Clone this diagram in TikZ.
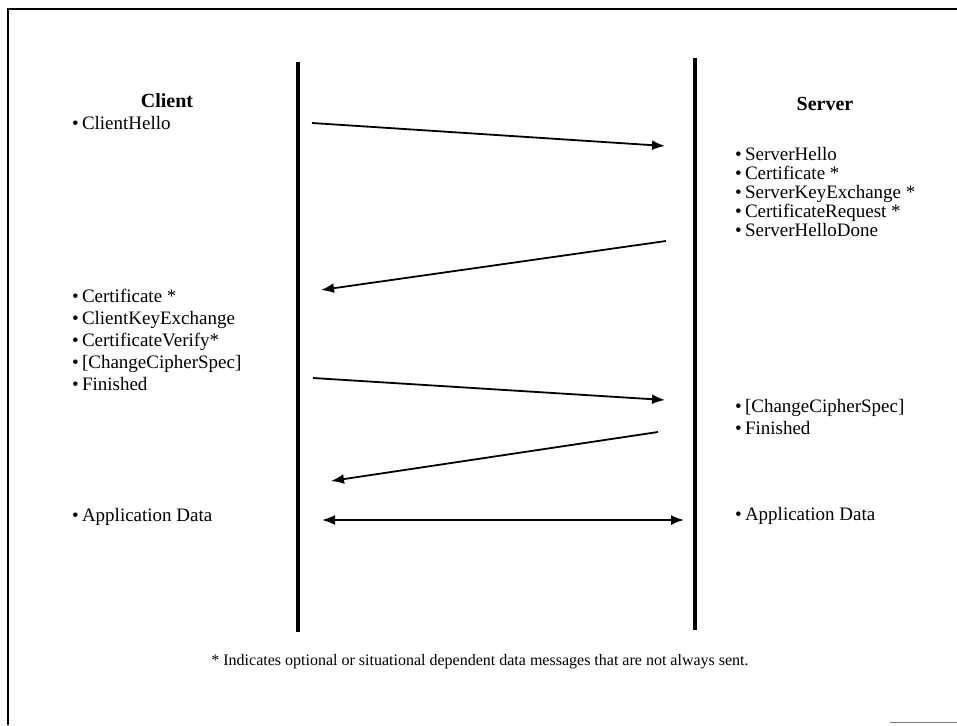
\documentclass[tikz,border=0pt]{standalone}
\usepackage{fontspec}
\setmainfont{Liberation Serif}
\usetikzlibrary{arrows.meta}
\begin{document}
\begin{tikzpicture}[x=1pt,y=-1pt,
  item/.style={anchor=base west, inner sep=0pt, font=\fontsize{19}{22}\selectfont},
  heading/.style={anchor=base, inner sep=0pt, font=\fontsize{20}{24}\selectfont\bfseries},
  note/.style={anchor=base, inner sep=0pt, font=\fontsize{16}{20}\selectfont},
  lifeline/.style={line width=4pt},
  msg/.style={line width=1.8pt, -{Latex[length=13pt,width=10pt]}},
  msgboth/.style={line width=1.8pt, {Latex[length=13pt,width=10pt]}-{Latex[length=13pt,width=10pt]}},
]
\useasboundingbox (0,0) rectangle (957,725);
% frame
\draw[line width=1.5pt] (8,725) -- (8,9) -- (957,9);
\draw[gray, line width=1pt] (890,722) -- (957,722);

% headings
\node[heading] (client) at (167,107) {Client};
\node[heading] (server) at (825,110) {Server};

% lifelines
\coordinate (cTop) at (298,62);
\coordinate (cBot) at (298,632);
\coordinate (sTop) at (695,58);
\coordinate (sBot) at (695,630);
\draw[lifeline] (cTop) -- (cBot);
\draw[lifeline] (sTop) -- (sBot);

% client messages
\node[item] (c1) at (72,129) {\textbullet\,ClientHello};
\node[item] (c2) at (72,302) {\textbullet\,Certificate *};
\node[item] (c3) at (72,324) {\textbullet\,ClientKeyExchange};
\node[item] (c4) at (72,346) {\textbullet\,CertificateVerify*};
\node[item] (c5) at (72,368) {\textbullet\,[ChangeCipherSpec]};
\node[item] (c6) at (72,390) {\textbullet\,Finished};
\node[item] (c7) at (72,521) {\textbullet\,Application Data};

% server messages
\node[item] (s1) at (735,160) {\textbullet\,ServerHello};
\node[item] (s2) at (735,179) {\textbullet\,Certificate *};
\node[item] (s3) at (735,198) {\textbullet\,ServerKeyExchange *};
\node[item] (s4) at (735,217) {\textbullet\,CertificateRequest *};
\node[item] (s5) at (735,236) {\textbullet\,ServerHelloDone};
\node[item] (s6) at (735,412) {\textbullet\,[ChangeCipherSpec]};
\node[item] (s7) at (735,434) {\textbullet\,Finished};
\node[item] (s8) at (735,520) {\textbullet\,Application Data};

% arrow end points
\coordinate (a1s) at (312,123);  \coordinate (a1e) at (665,146);
\coordinate (a2s) at (666,241);  \coordinate (a2e) at (321,290);
\coordinate (a3s) at (313,378);  \coordinate (a3e) at (665,400);
\coordinate (a4s) at (658,432);  \coordinate (a4e) at (331,481);
\coordinate (a5s) at (322,520);  \coordinate (a5e) at (684,520);

\draw[msg] (a1s) -- (a1e);
\draw[msg] (a2s) -- (a2e);
\draw[msg] (a3s) -- (a3e);
\draw[msg] (a4s) -- (a4e);
\draw[msgboth] (a5s) -- (a5e);

% footnote
\node[note] (foot) at (480,665) {* Indicates optional or situational dependent data messages that are not always sent.};
\end{tikzpicture}
\end{document}
